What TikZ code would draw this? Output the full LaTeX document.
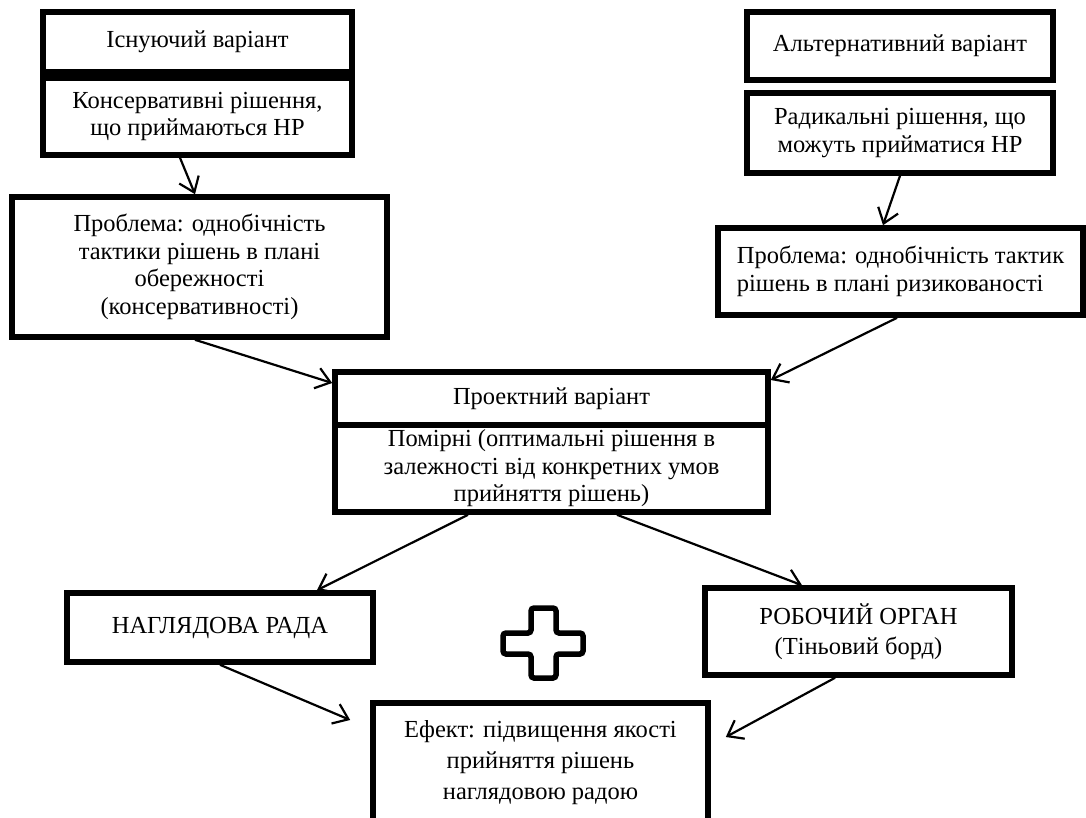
\documentclass[tikz,border=0pt]{standalone}
\usepackage{fontspec}
\setmainfont{Liberation Serif}
\usetikzlibrary{arrows.meta,calc}

\tikzset{
  box/.style={draw, line width=5.6pt, inner sep=0pt, align=center,
    font=\fontsize{24.5}{27.5}\selectfont},
  arr/.style={-{Straight Barb[length=14pt,width=21pt]}, line width=2.2pt}
}

\begin{document}
\begin{tikzpicture}[x=1pt,y=-1pt]
        \clip (0,0) rectangle (1086,818);
        \useasboundingbox (0,0) rectangle (1086,818);

        % Existing variant (left column)
        \node[box, minimum width=309pt, minimum height=60pt] (exist) at (197.5,42) {Існуючий варіант};
        \node[box, minimum width=309pt, minimum height=77pt] (cons) at (197.5,116.5) {Консервативні рішення,\\ що приймаються НР};
        \node[box, minimum width=375pt, minimum height=140pt] (probL) at (199.5,267) {Проблема: однобічність\\ тактики рішень в плані\\ обережності\\ (консервативності)};

        % Alternative variant (right column)
        \node[box, minimum width=306pt, minimum height=68pt] (alt) at (900,46) {Альтернативний варіант};
        \node[box, minimum width=306pt, minimum height=80pt] (rad) at (900,133) {Радикальні рішення, що\\ можуть прийматися НР};
        \node[box, minimum width=365pt, minimum height=87pt, align=left] (probR) at (900.5,271.5) {Проблема: однобічність тактик\\ рішень в плані ризикованості};

        % Project variant
        \node[box, minimum width=433pt, minimum height=53pt] (proj) at (551.5,398.5) {Проектний варіант};
        \node[box, minimum width=433pt, minimum height=87pt] (mod) at (551.5,468.5) {Помірні (оптимальні рішення в\\ залежності від конкретних умов\\ прийняття рішень)};

        % Boards
        \node[box, minimum width=306pt, minimum height=69pt] (rada) at (220,627.5) {НАГЛЯДОВА РАДА};
        \node[box, minimum width=307pt, minimum height=87pt, font=\fontsize{24.5}{30}\selectfont] (organ) at (858.5,631.5) {РОБОЧИЙ ОРГАН\\ (Тіньовий борд)};

        % Effect
        \node[box, minimum width=335pt, minimum height=119pt, font=\fontsize{24.5}{31}\selectfont] (eff) at (540.5,762.5) {Ефект: підвищення якості\\ прийняття рішень\\ наглядовою радою};

        % Plus sign
        \draw[line width=5.5pt, rounded corners=3pt] (531,608) -- (556,608) -- (556,633) -- (583,633) -- (583,654) -- (556,654) -- (556,678) -- (531,678) -- (531,654) -- (503,654) -- (503,633) -- (531,633) -- cycle;

        % Arrows
        \draw[arr] (cons.south -| 180,0) -- (probL.north -| 195,0);
        \draw[arr] (rad.south -| 900,0) -- (probR.north -| 883,0);
        \draw[arr] (probL.south -| 195,0) -- (proj.west |- 0,383);
        \draw[arr] (probR.south -| 897,0) -- (proj.east |- 0,380);
        \draw[arr] (mod.south -| 468,0) -- (rada.north -| 317,0);
        \draw[arr] (mod.south -| 617,0) -- (organ.north -| 802,0);
        \draw[arr] (rada.south -| 220,0) -- ($(eff.west |- 0,720)+(-20,0)$);
        \draw[arr] (organ.south -| 835,0) -- ($(eff.east |- 0,737)+(15,0)$);
\end{tikzpicture}
\end{document}
